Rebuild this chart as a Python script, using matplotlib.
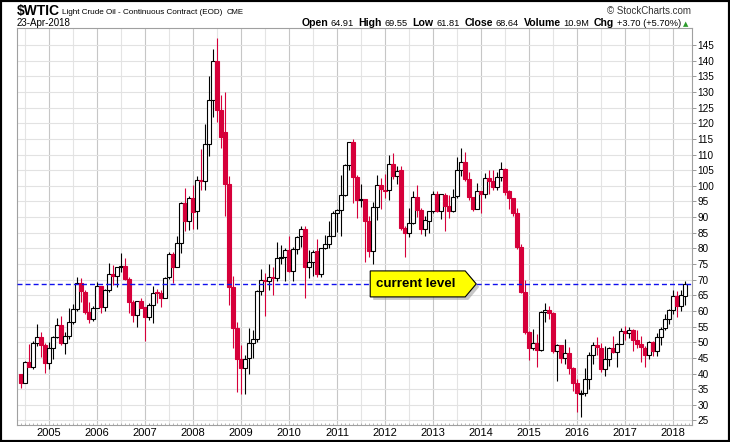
"""
WTIC monthly candlesticks, StockCharts look-alike.
"""

import numpy as np
import matplotlib
matplotlib.use("Agg")
import matplotlib.pyplot as plt
from matplotlib import font_manager, transforms
from matplotlib.patches import Polygon, Rectangle

# ── data: monthly OHLC, Jun-2004 .. Apr-2018 ────────────────────────────────
START_YEAR, START_MONTH = 2004, 6

OPEN = [
    39.9, 37.1, 43.8, 42.1, 49.6, 51.8, 49.1,                                  # 2004
    43.5, 48.2, 51.8, 55.4, 49.7, 52.0, 56.5, 60.6, 68.9, 66.2, 59.8, 57.3,    # 2005
    61.0, 67.9, 61.4, 66.6, 71.9, 71.3, 73.9, 74.4, 70.3, 62.9, 58.7, 63.1,    # 2006
    61.1, 58.1, 61.8, 65.9, 65.7, 64.0, 70.7, 78.2, 74.0, 81.7, 94.5, 88.7,    # 2007
    96.0, 91.8, 101.8, 101.6, 113.5, 127.4, 140.0, 124.1, 117.3, 100.6, 67.8, 54.4,  # 2008
    44.6, 41.7, 44.8, 49.7, 51.1, 66.3, 69.9, 69.5, 71.0, 70.6, 77.0, 77.3,    # 2009
    79.4, 72.9, 79.7, 83.8, 86.2, 74.0, 75.6, 79.0, 71.9, 80.0, 81.4, 84.1,    # 2010
    91.4, 92.2, 97.0, 106.7, 113.9, 102.7, 95.4, 95.7, 88.8, 79.2, 93.2, 100.4,  # 2011
    98.8, 98.5, 107.1, 103.0, 104.9, 86.5, 85.0, 88.1, 96.5, 92.2, 86.2, 88.9,   # 2012
    91.8, 97.5, 92.1, 97.2, 93.5, 92.0, 96.6, 105.0, 107.7, 102.3, 96.4, 92.7,   # 2013
    98.4, 97.5, 102.6, 101.6, 99.7, 102.7, 105.4, 98.2, 96.0, 91.2, 80.5, 66.2,  # 2014
    53.3, 48.2, 49.8, 47.6, 59.6, 60.3, 59.5, 47.1, 49.2, 45.1, 46.6, 41.7,    # 2015
    37.0, 33.6, 33.8, 38.3, 45.9, 49.1, 48.3, 41.6, 44.7, 48.2, 46.9, 49.4,    # 2016
    53.7, 52.8, 54.0, 50.6, 49.3, 48.3, 46.0, 50.2, 47.2, 51.7, 54.4, 57.4,    # 2017
    60.4, 64.7, 61.6, 64.91,                                                   # 2018
]
HIGH = [
    40.0, 44.0, 49.4, 50.5, 55.7, 53.4, 49.7,
    50.0, 52.1, 57.6, 58.3, 53.4, 60.9, 62.3, 70.9, 70.6, 66.8, 62.7, 61.5,
    69.2, 68.0, 67.0, 75.4, 74.8, 74.2, 78.4, 77.0, 70.8, 63.5, 62.7, 64.2,
    61.1, 62.4, 68.1, 66.9, 66.7, 70.7, 78.8, 78.8, 83.9, 94.7, 99.3, 96.8,
    100.1, 103.0, 111.8, 119.9, 135.1, 143.7, 147.3, 129.0, 130.0, 103.0, 71.2, 56.4,
    49.0, 45.8, 54.7, 54.0, 66.6, 73.4, 72.0, 75.0, 74.1, 82.0, 81.0, 80.0,
    83.9, 80.5, 83.9, 87.2, 87.0, 79.4, 79.6, 82.9, 80.2, 84.4, 88.6, 92.0,
    92.6, 103.4, 106.9, 113.9, 114.8, 103.4, 100.6, 95.9, 90.5, 94.7, 103.4, 102.4,
    103.7, 109.8, 110.6, 106.3, 106.4, 87.0, 92.9, 98.3, 100.4, 93.0, 90.2, 91.9,
    98.2, 98.2, 97.4, 97.8, 97.2, 99.0, 109.3, 112.2, 110.7, 104.3, 96.5, 100.8,
    98.4, 104.2, 105.2, 104.9, 104.5, 107.7, 105.8, 98.7, 96.0, 92.9, 81.4, 69.9,
    53.6, 54.2, 52.5, 59.9, 62.6, 61.6, 59.7, 49.3, 49.2, 50.9, 48.4, 42.0,
    38.4, 34.7, 41.9, 46.8, 50.2, 51.7, 49.6, 48.8, 48.4, 51.9, 49.9, 54.5,
    55.2, 54.9, 54.1, 53.8, 52.0, 48.9, 50.4, 50.4, 52.9, 54.9, 59.1, 60.5,
    66.7, 66.3, 66.6, 69.55,
]
LOW = [
    35.3, 36.9, 42.0, 41.6, 48.8, 45.3, 40.3,
    41.3, 44.6, 51.2, 49.2, 46.2, 51.1, 55.9, 60.0, 62.8, 59.0, 56.1, 56.8,
    60.8, 59.5, 60.0, 66.0, 68.3, 67.7, 72.5, 69.8, 59.5, 56.6, 55.0, 60.8,
    50.5, 57.0, 56.0, 62.6, 61.4, 64.0, 70.1, 69.0, 73.9, 78.5, 85.7, 86.0,
    86.1, 86.1, 98.7, 98.7, 109.6, 122.0, 120.4, 112.0, 90.5, 62.0, 48.3, 34.0,
    33.6, 33.6, 40.0, 45.0, 50.0, 65.0, 58.3, 66.7, 65.1, 69.5, 75.0, 69.5,
    72.4, 69.5, 78.3, 80.5, 64.2, 70.6, 71.1, 70.8, 70.8, 79.8, 80.0, 84.0,
    85.1, 84.0, 96.8, 105.0, 94.6, 89.6, 93.3, 75.7, 77.1, 74.95, 89.2, 92.5,
    96.0, 95.4, 102.1, 100.7, 86.0, 77.3, 83.6, 87.7, 90.0, 84.6, 84.1, 84.8,
    91.4, 91.7, 89.3, 85.6, 89.8, 91.6, 96.0, 103.1, 101.5, 95.6, 91.8, 92.5,
    91.2, 96.1, 97.4, 98.7, 98.8, 101.4, 97.2, 92.5, 90.4, 79.8, 65.7, 52.7,
    44.2, 47.4, 42.0, 47.1, 56.5, 57.4, 46.7, 37.75, 43.2, 43.0, 39.9, 34.5,
    27.6, 26.05, 32.7, 35.2, 43.0, 45.8, 40.6, 39.2, 42.5, 46.5, 42.2, 49.4,
    50.7, 51.2, 47.1, 48.2, 43.8, 42.05, 44.6, 45.6, 45.6, 49.1, 53.8, 55.8,
    59.1, 58.1, 59.9, 61.81,
]
CLOSE = [
    37.05, 43.80, 42.12, 49.64, 51.76, 49.13, 43.45,
    48.20, 51.75, 55.40, 49.72, 51.97, 56.50, 60.57, 68.94, 66.24, 59.76, 57.32, 61.04,
    67.92, 61.41, 66.63, 71.88, 71.29, 73.93, 74.40, 70.26, 62.91, 58.73, 63.13, 61.05,
    58.14, 61.79, 65.87, 65.71, 64.01, 70.68, 78.21, 74.04, 81.66, 94.53, 88.71, 95.98,
    91.75, 101.84, 101.58, 113.46, 127.35, 140.00, 124.08, 115.46, 100.64, 67.81, 54.43, 44.60,
    41.68, 44.76, 49.66, 51.12, 66.31, 69.89, 69.45, 70.96, 70.61, 77.00, 77.28, 79.36,
    72.89, 79.66, 83.76, 86.15, 73.97, 75.63, 78.95, 71.92, 79.97, 81.43, 84.11, 91.38,
    92.19, 96.97, 106.72, 113.93, 102.70, 95.42, 95.70, 88.81, 79.20, 93.19, 100.36, 98.83,
    98.48, 107.07, 103.02, 104.87, 86.53, 84.96, 88.06, 96.47, 92.19, 86.24, 88.91, 91.82,
    97.49, 92.05, 97.23, 93.46, 91.97, 96.56, 105.03, 107.65, 102.33, 96.38, 92.72, 98.42,
    97.49, 102.59, 101.58, 99.74, 102.71, 105.37, 98.17, 95.96, 91.16, 80.54, 66.15, 53.27,
    48.24, 49.76, 47.60, 59.63, 60.30, 59.47, 47.12, 49.20, 45.09, 46.59, 41.65, 37.04,
    33.62, 33.75, 38.34, 45.92, 49.10, 48.33, 41.60, 44.70, 48.24, 46.86, 49.44, 53.72,
    52.81, 54.01, 50.60, 49.33, 48.32, 46.04, 50.17, 47.23, 51.67, 54.38, 57.40, 60.42,
    64.73, 61.64, 64.94, 68.64,
]

YEARS = list(range(2005, 2019))
Y_TICKS = list(range(25, 150, 5))
CURRENT_LEVEL = 68.64
ANNOT_TEXT = "current level"
ANNOT_TIP_X = 2013.9

TICKER = "$WTIC"
NAME = "Light Crude Oil - Continuous Contract (EOD)"
EXCHANGE = "CME"
DATE_STR = "23-Apr-2018"
STATS = [("Open", "64.91"), ("High", "69.55"), ("Low", "61.81"),
         ("Close", "68.64"), ("Volume", "10.9M"), ("Chg", "+3.70 (+5.70%)")]
CREDIT = "\u00a9 StockCharts.com"

RED = "#d6003a"

# ── fonts ────────────────────────────────────────────────────────────────────
def have_font(name):
    try:
        font_manager.findfont(font_manager.FontProperties(family=name),
                              fallback_to_default=False)
        return True
    except Exception:
        return False

BASE = "Liberation Sans" if have_font("Liberation Sans") else "DejaVu Sans"
NARROW = "Liberation Sans Narrow" if have_font("Liberation Sans Narrow") else None
plt.rcParams["font.family"] = [BASE, "DejaVu Sans"]

# ── figure / axes (pixel layout) ─────────────────────────────────────────────
W, H = 730, 442
fig = plt.figure(figsize=(W / 100, H / 100), dpi=100)
fig.patch.set_facecolor("white")

L, R, T, B = 17, 691.5, 27.5, 424.5
XLIM = (2004.333, 2018.385)
YLIM = (23.7, 150.6)
ax = fig.add_axes([L / W, (H - B) / H, (R - L) / W, (B - T) / H])

xs = START_YEAR + (START_MONTH - 1) / 12 + np.arange(len(CLOSE)) / 12
o = np.array(OPEN); h = np.array(HIGH); lo = np.array(LOW); c = np.array(CLOSE)
up = c >= o
edge = np.where(up, "black", RED)
face = np.where(up, "white", RED)

ax.vlines(xs, lo, h, colors=edge, lw=0.8, zorder=3)
ax.bar(xs, np.abs(c - o), bottom=np.minimum(o, c), width=0.066,
       color=face, edgecolor=edge, linewidth=0.8, zorder=4)

# grid / ticks
months = START_YEAR + np.arange(4, 12 * 14 + 5) / 12
ax.set_xticks(YEARS)
ax.set_xticklabels([str(y) for y in YEARS])
ax.set_xticks(months[(months > XLIM[0]) & (months < XLIM[1])], minor=True)
ax.grid(which="major", axis="x", color="#c6c6c6", lw=0.8, zorder=0)
for y in range(2004, 2019):
    ax.axvline(y + 0.5, color="#e4e4e4", lw=0.8, zorder=0)
ax.set_yticks(Y_TICKS)
ax.grid(which="major", axis="y", color="#e2e2e2", lw=0.8, zorder=0)
ax.set_axisbelow(True)
ax.set_xlim(*XLIM)
ax.set_ylim(*YLIM)

ax.yaxis.tick_right()
ax.tick_params(axis="y", which="major", length=3, width=0.6, color="#888888",
               pad=1.5, labelsize=7.2, labelcolor="black")
ax.tick_params(axis="x", which="major", length=0, pad=2.5, labelsize=8)
ax.tick_params(axis="x", which="minor", length=1.5, width=0.6,
               color="#aaaaaa", direction="in")
for s in ax.spines.values():
    s.set_color("#a0a0a0")
    s.set_linewidth(0.8)

# current level line
ax.axhline(CURRENT_LEVEL, color="#1010ee", lw=1.0, ls=(0, (3.6, 2.2)), zorder=5)

# yellow arrow label
tip = transforms.ScaledTranslation(ANNOT_TIP_X, CURRENT_LEVEL, ax.transData)
trans = fig.dpi_scale_trans + tip
verts = np.array([(-106, 13), (-11, 13), (0, 0), (-11, -13), (-106, -13)]) / 100.0
shadow = Polygon(verts + np.array([3, -3]) / 100.0, closed=True,
                 facecolor="#9a9a9a", edgecolor="none", alpha=0.55,
                 transform=trans, zorder=6)
box = Polygon(verts, closed=True, facecolor="#ffff00", edgecolor="black",
              lw=0.8, transform=trans, zorder=7)
ax.add_patch(shadow)
ax.add_patch(box)
ax.text(-100 / 100.0, -0.5 / 100.0, ANNOT_TEXT, transform=trans, fontsize=9.6,
        fontweight="bold", va="center", ha="left", zorder=8)

# ── header ───────────────────────────────────────────────────────────────────
renderer = fig.canvas.get_renderer()

def run_text(runs, x, y, align="left"):
    """runs: (text, kwargs, gap_after_px); lays pieces out side by side."""
    objs = [fig.text(0, 1 - y / H, s, va="baseline", **kw) for s, kw, _ in runs]
    widths = [t.get_window_extent(renderer).width for t in objs]
    total = sum(widths) + sum(g for _, _, g in runs[:-1])
    cur = x - total if align == "right" else x
    for t, wd, (_, _, g) in zip(objs, widths, runs):
        t.set_x(cur / W)
        cur += wd + g

narrow_kw = {"family": NARROW, "fontsize": 6.8} if NARROW else {"fontsize": 5.9}
run_text([(TICKER, {"fontsize": 10, "fontweight": "bold"}, 2.5),
          (NAME, narrow_kw, 4),
          (EXCHANGE, {"fontsize": 5.6}, 0)], 17, 14.5)
fig.text(691 / W, 1 - 13.5 / H, CREDIT, ha="right", va="baseline",
         fontsize=7.0, color="#333333")
fig.text(17 / W, 1 - 26 / H, DATE_STR, va="baseline", fontsize=7.0)

runs = []
for lab, val in STATS:
    runs.append((lab, {"fontsize": 7.6, "fontweight": "bold"}, 2.5))
    runs.append((val, {"fontsize": 6.7}, 5))
run_text(runs, 681, 26, align="right")
fig.text(683 / W, 1 - 26 / H, "\u25b2", va="baseline", fontsize=5,
         color="#2b9a2b", family="DejaVu Sans")

# outer black frame
fig.add_artist(Rectangle((0, 0), 1, 1, transform=fig.transFigure, fill=False,
                         edgecolor="black", lw=3))

fig.savefig("out.png", dpi=100)
